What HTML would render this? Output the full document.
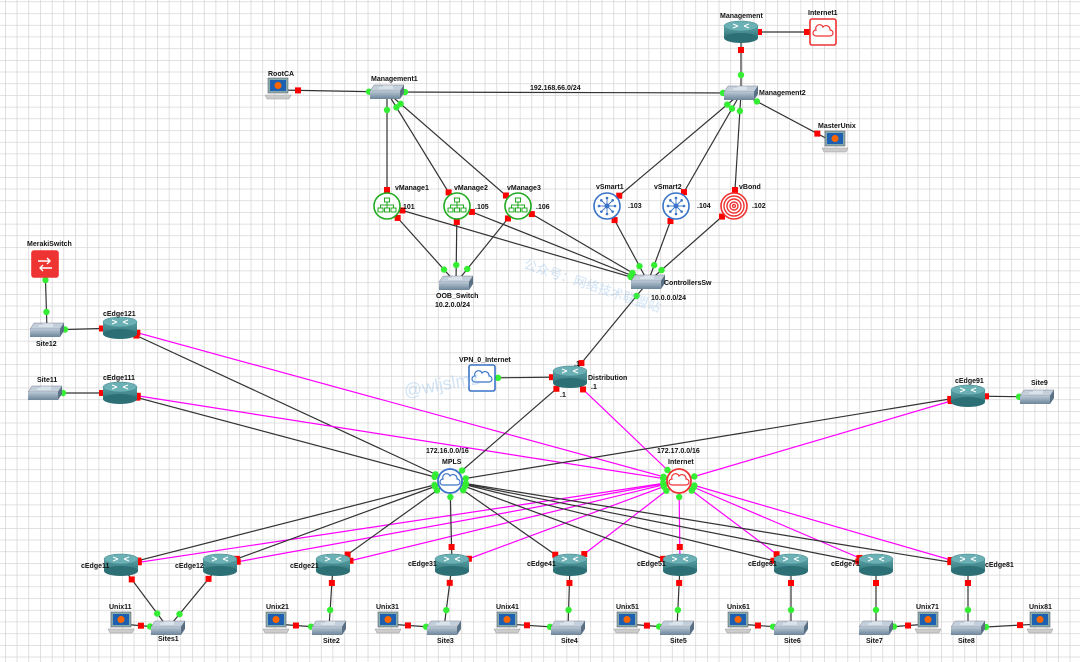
<!DOCTYPE html>
<html><head><meta charset="utf-8"><style>
html,body{margin:0;padding:0;background:#fff}
svg{display:block}
text{font-family:"Liberation Sans","Noto Sans CJK SC",sans-serif;font-size:7px;font-weight:bold;fill:#111}
</style></head><body>
<svg id="s" width="1080" height="662" viewBox="0 0 1080 662" xmlns="http://www.w3.org/2000/svg">
<defs>
<pattern id="g" x="5" y="1.5" width="11.7" height="11.7" patternUnits="userSpaceOnUse">
<path d="M0 0H11.7M0 0V11.7" stroke="#cfcfcf" stroke-width="1.3" fill="none"/>
</pattern>
<linearGradient id="rt" x1="0" y1="0" x2="0" y2="1"><stop offset="0" stop-color="#5fa3a8"/><stop offset="1" stop-color="#2f7479"/></linearGradient>
<linearGradient id="sw" x1="0" y1="0" x2="0" y2="1"><stop offset="0" stop-color="#b7c6d4"/><stop offset="1" stop-color="#6d8599"/></linearGradient>
</defs>
<rect width="1080" height="662" fill="url(#g)"/>
<g id="links"></g>
<g id="nodes"></g>
<g id="labels">
<text x="720" y="18">Management</text><text x="808" y="15">Internet1</text>
<text x="268" y="76">RootCA</text><text x="371" y="81">Management1</text>
<text x="530" y="90">192.168.66.0/24</text><text x="759" y="95">Management2</text>
<text x="818" y="128">MasterUnix</text>
<text x="395" y="190">vManage1</text><text x="454" y="190">vManage2</text><text x="507" y="190">vManage3</text>
<text x="596" y="189">vSmart1</text><text x="654" y="189">vSmart2</text><text x="739" y="189">vBond</text>
<text x="401" y="209">.101</text><text x="475" y="209">.105</text><text x="536" y="209">.106</text>
<text x="628" y="208">.103</text><text x="697" y="208">.104</text><text x="752" y="208">.102</text>
<text x="436" y="298">OOB_Switch</text><text x="435" y="307">10.2.0.0/24</text>
<text x="664" y="285">ControllersSw</text><text x="651" y="300">10.0.0.0/24</text>
<text x="27" y="246">MerakiSwitch</text><text x="36" y="346">Site12</text><text x="103" y="316">cEdge121</text>
<text x="37" y="382">Site11</text><text x="103" y="380">cEdge111</text>
<text x="459" y="362">VPN_0_Internet</text><text x="588" y="380">Distribution</text>
<text x="574" y="366">.1</text><text x="560" y="397">.1</text><text x="591" y="389">.1</text>
<text x="955" y="383">cEdge91</text><text x="1031" y="385">Site9</text>
<text x="426" y="453">172.16.0.0/16</text><text x="442" y="464">MPLS</text>
<text x="657" y="453">172.17.0.0/16</text><text x="668" y="464">Internet</text>
<text x="81" y="568">cEdge11</text><text x="175" y="568">cEdge12</text><text x="290" y="568">cEdge21</text>
<text x="408" y="566">cEdge31</text><text x="527" y="566">cEdge41</text><text x="637" y="566">cEdge51</text>
<text x="748" y="566">cEdge61</text><text x="831" y="566">cEdge71</text><text x="985" y="567">cEdge81</text>
<text x="109" y="609">Unix11</text><text x="266" y="609">Unix21</text><text x="376" y="609">Unix31</text>
<text x="496" y="609">Unix41</text><text x="616" y="609">Unix51</text><text x="727" y="609">Unix61</text>
<text x="916" y="609">Unix71</text><text x="1029" y="609">Unix81</text>
<text x="158" y="641">Sites1</text><text x="323" y="643">Site2</text><text x="437" y="643">Site3</text>
<text x="561" y="643">Site4</text><text x="670" y="643">Site5</text><text x="784" y="643">Site6</text>
<text x="866" y="643">Site7</text><text x="958" y="643">Site8</text>
</g>
<g opacity="0.35">
<text x="523" y="268" transform="rotate(18 523 268)" style="font-size:13px;font-weight:normal;fill:#7fb3e6">公众号：网络技术联盟站</text>
<text x="405" y="397" transform="rotate(-10 405 397)" style="font-size:18px;font-weight:normal;fill:#7fb3e6">@wljslmz</text>
</g>
</svg>
<script>
const N={
Mgmt:[741,32,'r'],Inet1:[823,32,'cr'],M1:[387,92,'s'],M2:[741,93,'s'],RootCA:[278,90,'p'],MU:[835,143,'p'],
vM1:[387,206,'cg'],vM2:[457,206,'cg'],vM3:[518,206,'cg'],vS1:[607,206,'cb'],vS2:[676,206,'cb'],vB:[734,206,'cv'],
OOB:[456,283,'s'],CS:[648,282,'s'],Mer:[45,264,'mk'],S12:[47,330,'s'],E121:[120,328,'r'],S11:[45,393,'s'],E111:[120,393,'r'],
VPN:[482,378,'bb'],Dist:[570,377,'r'],E91:[968,396,'r'],S9:[1037,397,'s'],MPLS:[450,481,'cc'],INT:[679,481,'ci'],
E11:[121,565,'r'],E12:[220,565,'r'],E21:[333,565,'r'],E31:[452,565,'r'],E41:[570,565,'r'],E51:[680,565,'r'],E61:[791,565,'r'],E71:[876,565,'r'],E81:[968,565,'r'],
Si1:[168,628,'s'],Si2:[329,628,'s'],Si3:[444,628,'s'],Si4:[568,628,'s'],Si5:[677,628,'s'],Si6:[791,628,'s'],Si7:[876,628,'s'],Si8:[968,628,'s'],
U11:[121,624,'p'],U21:[276,624,'p'],U31:[388,624,'p'],U41:[507,624,'p'],U51:[627,624,'p'],U61:[738,624,'p'],U71:[928,624,'p'],U81:[1040,624,'p']};
const L=[];
const B='#333',P='#f0f';
function ln(a,b,c){L.push([a,b,c||B])}
ln('Mgmt','Inet1');ln('Mgmt','M2');ln('RootCA','M1');ln('M1','M2');ln('M2','MU');
['vM1','vM2','vM3'].forEach(v=>{ln(v,'M1');ln(v,'OOB');ln(v,'CS')});
['vS1','vS2','vB'].forEach(v=>{ln(v,'M2');ln(v,'CS')});
ln('Mer','S12');ln('S12','E121');ln('S11','E111');ln('CS','Dist');ln('VPN','Dist');ln('E91','S9');
['E121','E111','Dist','E91','E11','E12','E21','E31','E41','E51','E61','E71','E81'].forEach(e=>{ln(e,'MPLS');ln(e,'INT',P)});
ln('E11','Si1');ln('E12','Si1');ln('U11','Si1');
[['E21','Si2','U21'],['E31','Si3','U31'],['E41','Si4','U41'],['E51','Si5','U51'],['E61','Si6','U61'],['E71','Si7','U71'],['E81','Si8','U81']].forEach(t=>{ln(t[0],t[1]);ln(t[2],t[1])});
let h='';
function ep(n){const t=n[2];return (t=='r'||t=='p'||t[0]=='c'&&t!='cc'&&t!='ci')?'red':'#2e2'}
L.forEach(([a,b,c])=>{const A=N[a],Bn=N[b];
h+=`<line x1="${A[0]}" y1="${A[1]}" x2="${Bn[0]}" y2="${Bn[1]}" stroke="${c}" stroke-width="1.2"/>`;
const dx=Bn[0]-A[0],dy=Bn[1]-A[1],d=Math.hypot(dx,dy),ux=dx/d,uy=dy/d;
[[A,1],[Bn,-1]].forEach(([n,s])=>{const r=(n[2][0]=='c'||n[2]=='bb'||n[2]=='mk')?16:n[2]=='p'?20:18;
const x=n[0]+s*ux*r,y=n[1]+s*uy*r,col=ep(n);
h+=col=='red'?`<rect x="${x-3}" y="${y-3}" width="6" height="6" fill="red"/>`:`<circle cx="${x}" cy="${y}" r="3.2" fill="#3e3"/>`;});
});
document.getElementById('links').innerHTML=h;
let g='';
for(const k in N){const [x,y,t]=N[k];
if(t=='r')g+=`<rect x="${x-17}" y="${y-6}" width="34" height="12" fill="url(#rt)"/><ellipse cx="${x}" cy="${y+6}" rx="17" ry="5" fill="#2c6f74"/><ellipse cx="${x}" cy="${y-6}" rx="17" ry="5" fill="#6bb0b4" stroke="#3d8488" stroke-width=".5"/><path d="M${x-8} ${y-8}l5 2m11-2l-5 2m-11 2l5-2m11 2l-5-2" stroke="#fff" stroke-width="1"/>`;
else if(t=='s')g+=`<path d="M${x-13} ${y-7}h30l-4 6h-30z" fill="#c3d0dc" stroke="#667" stroke-width=".4"/><rect x="${x-17}" y="${y-1}" width="30" height="8" fill="url(#sw)"/><path d="M${x+13} ${y-1}l4-6v8l-4 6z" fill="#5a7085"/><path d="M${x-8} ${y-4}h14M${x-4} ${y-6}h10" stroke="#fff" stroke-width=".8"/>`;
else if(t=='p')g+=`<rect x="${x-10}" y="${y-12}" width="20" height="15" fill="#8aa" stroke="#667" stroke-width=".6"/><rect x="${x-8}" y="${y-10}" width="16" height="11" fill="#1d5fb0"/><circle cx="${x}" cy="${y-4.5}" r="3.5" fill="#f60"/><path d="M${x-13} ${y+5}h26l-2 4h-22z" fill="#ccc" stroke="#999" stroke-width=".5"/>`;
else if(t=='cg'||t=='cb'||t=='cv'){const col=t=='cg'?'#2a2':t=='cb'?'#3a73c8':'#e33';
g+=`<circle cx="${x}" cy="${y}" r="13" fill="#fff" stroke="${col}" stroke-width="1.6"/>`;
if(t=='cg')g+=`<g stroke="${col}" fill="none" stroke-width="1"><rect x="${x-2.5}" y="${y-8}" width="5" height="4"/><rect x="${x-9}" y="${y+2}" width="5" height="4"/><rect x="${x-2.5}" y="${y+2}" width="5" height="4"/><rect x="${x+4}" y="${y+2}" width="5" height="4"/><path d="M${x} ${y-4}v6M${x-6.5} ${y+2}v-3h13v3"/></g>`;
else if(t=='cb'){g+=`<circle cx="${x}" cy="${y}" r="2.5" fill="${col}"/>`;for(let i=0;i<8;i++){const a=i*Math.PI/4;g+=`<line x1="${x}" y1="${y}" x2="${x+8*Math.cos(a)}" y2="${y+8*Math.sin(a)}" stroke="${col}" stroke-width=".9"/><circle cx="${x+8*Math.cos(a)}" cy="${y+8*Math.sin(a)}" r="1.3" fill="${col}"/>`}}
else {[10,7,4,1.5].forEach(r=>g+=`<circle cx="${x}" cy="${y}" r="${r}" fill="none" stroke="${col}" stroke-width="1.4"/>`)}}
else if(t=='cc'||t=='ci'){const col=t=='cc'?'#3a73c8':'#e33';g+=`<circle cx="${x}" cy="${y}" r="12" fill="#fff" stroke="${col}" stroke-width="1.8"/><path d="M${x-7} ${y+4}h14a3 3 0 0 0 0-6a4 4 0 0 0-7-3a3 3 0 0 0-7 3a3 3 0 0 0 0 6z" fill="none" stroke="${col}" stroke-width="1.2"/>`}
else if(t=='cr'||t=='bb'||t=='mk'){const col=t=='bb'?'#3a73c8':'#e33';
g+=`<rect x="${x-13}" y="${y-13}" width="26" height="26" rx="2" fill="${t=='mk'?'#e33':'#fff'}" stroke="${col}" stroke-width="1.6"/>`;
if(t=='mk')g+=`<path d="M${x-7} ${y-3}h12m-3-3l3 3-3 3M${x+7} ${y+4}h-12m3-3l-3 3 3 3" stroke="#fff" stroke-width="1.4" fill="none"/>`;
else g+=`<path d="M${x-7} ${y+4}h14a3 3 0 0 0 0-6a4 4 0 0 0-7-3a3 3 0 0 0-7 3a3 3 0 0 0 0 6z" fill="none" stroke="${col}" stroke-width="1.2"/>`}
}
document.getElementById('nodes').innerHTML=g;
</script>
</body></html>
